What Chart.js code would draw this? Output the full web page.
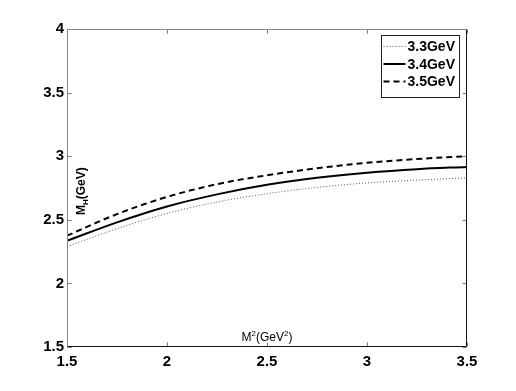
<!DOCTYPE html>
<html>
<head>
<meta charset="utf-8">
<script src="https://cdn.jsdelivr.net/npm/chart.js@4"></script>
<style>
  body { margin: 0; background: #fff; }
  canvas { display: block; }
</style>
</head>
<body>
<canvas id="chart" width="516" height="391"></canvas>
<script>
// values
const mSquared = [1.5, 1.75, 2, 2.25, 2.5, 2.75, 3, 3.25, 3.5];
const mh33 = [2.29, 2.43, 2.55, 2.64, 2.705, 2.755, 2.79, 2.812, 2.83];
const mh34 = [2.335, 2.48, 2.605, 2.70, 2.775, 2.83, 2.87, 2.898, 2.916];
const mh35 = [2.375, 2.545, 2.68, 2.78, 2.85, 2.905, 2.948, 2.978, 3.00];
const seriesLabels = ['3.3GeV', '3.4GeV', '3.5GeV'];
const xTicks = [1.5, 2, 2.5, 3, 3.5];
const yTicks = [1.5, 2, 2.5, 3, 3.5, 4];

const FONT = "'Liberation Sans', Arial, Helvetica, sans-serif";

function points(ys) {
  return mSquared.map((x, i) => ({ x: x, y: ys[i] }));
}

function seg(ctx, x1, y1, x2, y2) {
  ctx.beginPath();
  ctx.moveTo(x1, y1);
  ctx.lineTo(x2, y2);
  ctx.stroke();
}

// matlab style box, inner ticks, axis titles and legend
const matlabFrame = {
  id: 'matlabFrame',
  afterDraw(chart) {
    const ctx = chart.ctx;
    const a = chart.chartArea;
    const xs = chart.scales.x, ys = chart.scales.y;
    const L = Math.round(a.left) + 0.5, R = Math.round(a.right) - 0.5;
    const T = Math.round(a.top) + 0.5, B = Math.round(a.bottom) - 0.5;
    ctx.save();

    // tick marks inside the box
    ctx.lineWidth = 1;
    ctx.strokeStyle = '#777';
    xTicks.forEach(v => {
      const px = Math.round(xs.getPixelForValue(v)) + 0.5;
      seg(ctx, px, B, px, B - 4);
      seg(ctx, px, T, px, T + 4);
    });
    yTicks.forEach(v => {
      const py = Math.round(ys.getPixelForValue(v)) + 0.5;
      seg(ctx, L, py, L + 4, py);
      seg(ctx, R, py, R - 4, py);
    });

    // box
    ctx.strokeStyle = '#888';
    seg(ctx, L, B, L, T);
    seg(ctx, L, T, R, T);
    ctx.strokeStyle = '#111';
    seg(ctx, L, B, R, B);
    seg(ctx, R, B, R, T);

    // x title: M^2(GeV^2)
    ctx.fillStyle = '#000';
    ctx.textBaseline = 'alphabetic';
    const big = '12px ' + FONT, small = '8px ' + FONT;
    const xParts = [['M', big, 0], ['2', small, -5], ['(GeV', big, 0], ['2', small, -5], [')', big, 0]];
    let w = 0;
    xParts.forEach(p => { ctx.font = p[1]; w += ctx.measureText(p[0]).width; });
    let cx = xs.getPixelForValue(2.5) - w / 2;
    xParts.forEach(p => {
      ctx.font = p[1];
      ctx.fillText(p[0], cx, B - 6 + p[2]);
      cx += ctx.measureText(p[0]).width;
    });

    // y title: M_H(GeV), rotated
    ctx.save();
    ctx.translate(L + 17, ys.getPixelForValue(2.6) + 8);
    ctx.rotate(-Math.PI / 2);
    const yb = 'bold 12px ' + FONT, ysm = 'bold 8px ' + FONT;
    let cy = 0;
    [['M', yb, 0], ['H', ysm, 3], ['(GeV)', yb, 0]].forEach(p => {
      ctx.font = p[1];
      ctx.fillText(p[0], cy, p[2]);
      cy += ctx.measureText(p[0]).width;
    });
    ctx.restore();

    // legend box in the upper right corner
    const bw = 78, bh = 62;
    const bx = Math.round(a.right) - 8 - bw + 0.5, by = Math.round(a.top) + 6 + 0.5;
    ctx.fillStyle = '#fff';
    ctx.fillRect(bx, by, bw, bh);
    ctx.strokeStyle = '#222';
    ctx.strokeRect(bx, by, bw, bh);
    ctx.font = 'bold 14px ' + FONT;
    ctx.textBaseline = 'middle';
    chart.data.datasets.forEach((ds, i) => {
      const ry = by + 11 + i * 17.5;
      ctx.strokeStyle = ds.borderColor;
      ctx.lineWidth = ds.borderWidth;
      ctx.setLineDash(ds.borderDash || []);
      seg(ctx, bx + 2, ry, bx + 24, ry);
      ctx.setLineDash([]);
      ctx.fillStyle = '#000';
      ctx.fillText(ds.label, bx + 26, ry + 1);
    });

    ctx.restore();
  }
};

new Chart(document.getElementById('chart'), {
  type: 'line',
  data: {
    datasets: [
      {
        label: seriesLabels[0],
        data: points(mh33),
        borderColor: '#555',
        borderWidth: 1,
        borderDash: [1, 2]
      },
      {
        label: seriesLabels[1],
        data: points(mh34),
        borderColor: '#000',
        borderWidth: 2
      },
      {
        label: seriesLabels[2],
        data: points(mh35),
        borderColor: '#000',
        borderWidth: 2,
        borderDash: [6, 4]
      }
    ]
  },
  options: {
    responsive: false,
    devicePixelRatio: 1,
    animation: false,
    layout: { padding: { top: 29, right: 49, left: 0, bottom: 0 } },
    elements: {
      point: { radius: 0 },
      line: { cubicInterpolationMode: 'monotone', fill: false }
    },
    plugins: {
      legend: { display: false },
      tooltip: { enabled: false }
    },
    scales: {
      x: {
        type: 'linear',
        min: 1.5,
        max: 3.5,
        afterBuildTicks: s => { s.ticks = xTicks.map(v => ({ value: v })); },
        afterFit: s => { s.height = 44; },
        grid: { display: false, drawTicks: false },
        border: { display: false },
        ticks: {
          padding: 6,
          color: '#000',
          font: { family: FONT, size: 15, weight: 'bold' },
          callback: v => String(v)
        }
      },
      y: {
        type: 'linear',
        min: 1.5,
        max: 4,
        afterBuildTicks: s => { s.ticks = yTicks.map(v => ({ value: v })); },
        afterFit: s => { s.width = 67; },
        grid: { display: false, drawTicks: false },
        border: { display: false },
        ticks: {
          padding: 3,
          color: '#000',
          font: { family: FONT, size: 15, weight: 'bold' },
          callback: v => String(v)
        }
      }
    }
  },
  plugins: [matlabFrame]
});
</script>
</body>
</html>
